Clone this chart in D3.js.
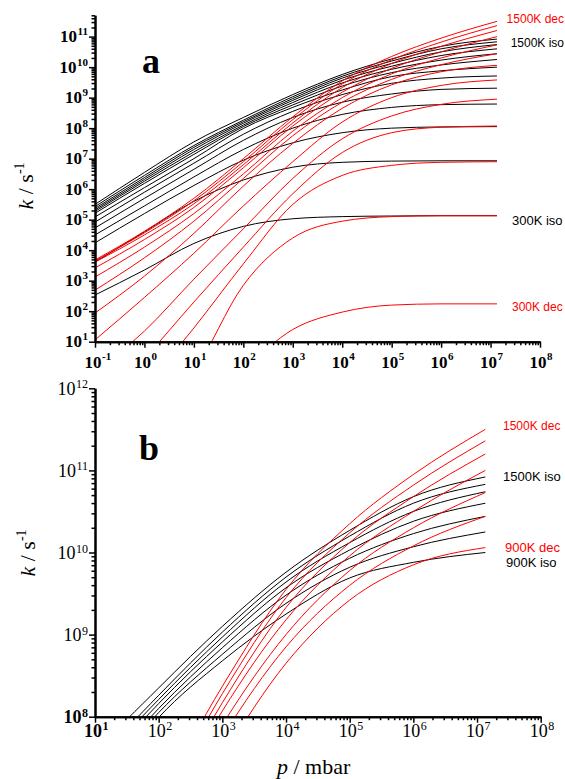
<!DOCTYPE html>
<html><head><meta charset="utf-8">
<script src="https://cdn.jsdelivr.net/npm/d3@7"></script>
<style>body{margin:0;background:#fff} svg{display:block}</style>
</head><body>
<svg id="c" width="565" height="779"></svg>
<script>
// ---- data: log10(p / mbar) grid and log10(k / s^-1) per curve ----
const logP = [-1, 0, 1, 2, 3, 4, 5, 6, 7.13];
const temps = [300, 400, 500, 600, 700, 800, 900, 1000, 1100, 1200, 1300, 1400, 1500];

const iso300  = [2.53, 3.35, 4.22, 4.78, 5.03, 5.10, 5.12, 5.13, 5.13];
const iso400  = [3.61, 4.60, 5.60, 6.30, 6.72, 6.88, 6.92, 6.93, 6.93];
const iso500  = [4.24, 5.20, 6.12, 6.95, 7.52, 7.85, 8.00, 8.04, 8.05];
const iso600  = [4.50, 5.45, 6.40, 7.30, 8.00, 8.45, 8.68, 8.77, 8.79];
const iso700  = [4.73, 5.70, 6.65, 7.60, 8.35, 8.85, 9.12, 9.27, 9.31];
const iso800  = [4.92, 5.90, 6.85, 7.80, 8.55, 9.10, 9.47, 9.64, 9.71];
const iso900  = [5.09, 6.05, 7.00, 7.99, 8.68, 9.25, 9.69, 9.88, 10.00];
const iso1000 = [5.21, 6.19, 7.14, 8.05, 8.76, 9.38, 9.82, 10.07, 10.25];
const iso1100 = [5.27, 6.26, 7.22, 8.10, 8.84, 9.48, 9.93, 10.23, 10.44];
const iso1200 = [5.32, 6.32, 7.30, 8.16, 8.91, 9.57, 10.03, 10.38, 10.60];
const iso1300 = [5.37, 6.38, 7.37, 8.21, 8.97, 9.64, 10.12, 10.50, 10.74];
const iso1400 = [5.43, 6.45, 7.43, 8.26, 9.03, 9.70, 10.20, 10.60, 10.83];
const iso1500 = [5.50, 6.55, 7.55, 8.35, 9.10, 9.76, 10.27, 10.68, 10.92];

const dec300  = [-4.0, -2.5, -1.2, 0.10, 1.40, 1.97, 2.20, 2.24, 2.24];
const dec400  = [-3.5, -1.8, 0.0, 2.85, 4.40, 4.95, 5.10, 5.13, 5.13];
const dec500  = [-2.5, -0.5, 1.45, 3.55, 5.50, 6.45, 6.78, 6.88, 6.90];
const dec600  = [-1.2, 0.45, 2.30, 4.10, 5.85, 7.20, 7.85, 8.03, 8.07];
const dec700  = [0.00, 1.35, 3.05, 4.70, 6.35, 7.65, 8.40, 8.78, 8.95];
const dec800  = [1.06, 2.45, 3.90, 5.45, 6.90, 8.20, 9.00, 9.40, 9.58];
const dec900  = [1.94, 3.15, 4.55, 6.10, 7.50, 8.65, 9.42, 9.85, 10.06];
const dec1000 = [2.69, 3.75, 4.95, 6.35, 7.75, 8.85, 9.60, 10.08, 10.44];
const dec1100 = [3.12, 4.10, 5.20, 6.50, 7.90, 9.00, 9.78, 10.30, 10.73];
const dec1200 = [3.42, 4.35, 5.40, 6.70, 8.07, 9.18, 9.96, 10.50, 11.00];
const dec1300 = [3.61, 4.50, 5.52, 6.80, 8.17, 9.33, 10.12, 10.68, 11.20];
const dec1400 = [3.65, 4.57, 5.62, 6.90, 8.28, 9.45, 10.24, 10.82, 11.36];
const dec1500 = [3.68, 4.62, 5.70, 7.00, 8.37, 9.55, 10.35, 10.95, 11.50];

const isoSeries = [iso300, iso400, iso500, iso600, iso700, iso800, iso900, iso1000, iso1100, iso1200, iso1300, iso1400, iso1500];
const decSeries = [dec300, dec400, dec500, dec600, dec700, dec800, dec900, dec1000, dec1100, dec1200, dec1300, dec1400, dec1500];

// tick exponents
const aXExp = [-1, 0, 1, 2, 3, 4, 5, 6, 7, 8];
const aYExp = [1, 2, 3, 4, 5, 6, 7, 8, 9, 10, 11];
const bXExp = [1, 2, 3, 4, 5, 6, 7, 8];
const bYExp = [8, 9, 10, 11, 12];
const bTemps = [900, 1000, 1100, 1200, 1300, 1400, 1500];

const aLabels = [
  {t: "1500K dec", c: "#ff0000", x: 511, y: 23},
  {t: "1500K iso", c: "#000", x: 511, y: 47},
  {t: "300K iso", c: "#000", x: 512, y: 225},
  {t: "300K dec", c: "#ff0000", x: 512, y: 311}
];
const bLabels = [
  {t: "1500K dec", c: "#ff0000", x: 503, y: 430},
  {t: "1500K iso", c: "#000", x: 503, y: 481},
  {t: "900K dec", c: "#ff0000", x: 505, y: 552},
  {t: "900K iso", c: "#000", x: 506, y: 567}
];

// ---- drawing ----
const svg = d3.select("#c");
const serif = "'Liberation Serif','Times New Roman',serif";
const sans = "'Liberation Sans',Arial,sans-serif";

function minorTicks(lo, hi) {
  const out = [];
  for (let e = Math.floor(Math.log10(lo)); e <= Math.ceil(Math.log10(hi)); e++) {
    for (let m = 2; m <= 9; m++) {
      const v = m * Math.pow(10, e);
      if (v >= lo * 0.999 && v <= hi * 1.001) out.push(v);
    }
  }
  return out;
}

function drawPanel(cfg) {
  const x = d3.scaleLog().domain(cfg.pDom).range([cfg.x0, cfg.x1]);
  const y = d3.scaleLog().domain(cfg.kDom).range([cfg.yBot, cfg.yTop]);
  const g = svg.append("g");
  const clipId = "clip" + cfg.id;
  svg.append("defs").append("clipPath").attr("id", clipId)
    .append("rect").attr("x", cfg.x0).attr("y", cfg.yTop - 1)
    .attr("width", cfg.x1 - cfg.x0).attr("height", cfg.yBot - cfg.yTop + 1);

  const line = d3.line().x(d => x(d[0])).y(d => y(d[1])).curve(d3.curveMonotoneX);
  const lines = g.append("g").attr("clip-path", `url(#${clipId})`);
  const idx = temps.map((t, i) => i).filter(i => cfg.temps.includes(temps[i]));
  const toPts = arr => logP.map((lp, i) => [Math.pow(10, lp), Math.pow(10, arr[i])]);
  idx.forEach(i => {
    lines.append("path").attr("d", line(toPts(isoSeries[i])))
      .attr("fill", "none").attr("stroke", "#000").attr("stroke-width", 1);
  });
  idx.forEach(i => {
    lines.append("path").attr("d", line(toPts(decSeries[i])))
      .attr("fill", "none").attr("stroke", "#ff0000").attr("stroke-width", 1);
  });

  // axes
  const xMajor = cfg.xExp.map(e => Math.pow(10, e));
  const yMajor = cfg.yExp.map(e => Math.pow(10, e));
  const styleAxis = sel => {
    sel.selectAll("path.domain").attr("stroke", "#000").attr("stroke-width", 2);
    sel.selectAll(".tick line").attr("stroke", "#000").attr("stroke-width", 1.5);
    sel.selectAll(".tick text").remove();
  };
  g.append("g").attr("transform", `translate(0,${cfg.yBot})`)
    .call(d3.axisBottom(x).tickValues(minorTicks(cfg.pDom[0], cfg.pDom[1])).tickSize(3.5).tickSizeOuter(0).tickFormat(""))
    .call(styleAxis);
  g.append("g").attr("transform", `translate(0,${cfg.yBot})`)
    .call(d3.axisBottom(x).tickValues(xMajor).tickSize(6).tickSizeOuter(0).tickFormat(""))
    .call(styleAxis);
  g.append("g").attr("transform", `translate(${cfg.x0},0)`)
    .call(d3.axisLeft(y).tickValues(minorTicks(cfg.kDom[0], cfg.kDom[1])).tickSize(3.5).tickSizeOuter(0).tickFormat(""))
    .call(styleAxis);
  g.append("g").attr("transform", `translate(${cfg.x0},0)`)
    .call(d3.axisLeft(y).tickValues(yMajor).tickSize(6).tickSizeOuter(0).tickFormat(""))
    .call(styleAxis);

  // tick labels
  cfg.xExp.forEach(e => {
    const bold = cfg.bold || e === cfg.boldX;
    const wt = bold ? "bold" : "normal";
    const t10 = g.append("text").text("10").attr("font-family", serif).attr("font-weight", wt)
      .attr("font-size", cfg.fs).attr("fill", "#000");
    const ts = g.append("text").text(String(e)).attr("font-family", serif).attr("font-weight", wt)
      .attr("font-size", cfg.sfs).attr("fill", "#000");
    const w10 = t10.node().getComputedTextLength();
    const ws = ts.node().getComputedTextLength();
    const cx = x(Math.pow(10, e)) + cfg.xLabShift;
    const start = cfg.centerWhole ? cx - (w10 + ws) / 2 : cx - w10 / 2;
    t10.attr("x", start).attr("y", cfg.xLabBase);
    ts.attr("x", start + w10 + 0.5).attr("y", cfg.xSupBase);
  });
  cfg.yExp.forEach(e => {
    const bold = cfg.bold || e === cfg.boldY;
    const wt = bold ? "bold" : "normal";
    const yy = y(Math.pow(10, e));
    const ts = g.append("text").text(String(e)).attr("font-family", serif).attr("font-weight", wt)
      .attr("font-size", cfg.sfs).attr("fill", "#000").attr("text-anchor", "end")
      .attr("x", cfg.yLabRight).attr("y", yy + cfg.ySupOff);
    const ws = ts.node().getComputedTextLength();
    g.append("text").text("10").attr("font-family", serif).attr("font-weight", wt)
      .attr("font-size", cfg.fs).attr("fill", "#000").attr("text-anchor", "end")
      .attr("x", cfg.yLabRight - ws - 0.5).attr("y", yy + cfg.yBaseOff);
  });

  // y title
  const yt = g.append("text").attr("transform", `translate(${cfg.ytX},${cfg.ytY}) rotate(-90)`)
    .attr("text-anchor", "middle").attr("font-family", serif).attr("font-size", 22).attr("fill", "#000");
  yt.append("tspan").attr("font-style", "italic").text("k");
  yt.append("tspan").text(" / s");
  yt.append("tspan").attr("font-size", 14).attr("dy", -9).text("-1");

  // panel letter
  g.append("text").attr("x", cfg.letX).attr("y", cfg.letY).attr("font-family", serif)
    .attr("font-weight", "bold").attr("font-size", 36).attr("fill", "#000").text(cfg.id);

  // curve labels (kept inside the 565 px page)
  cfg.labels.forEach(l => {
    const t = g.append("text").attr("x", l.x).attr("y", l.y).attr("font-family", sans).attr("font-size", 13)
      .attr("fill", l.c).text(l.t);
    let w = t.node().getComputedTextLength();
    if (l.x + w > 564) {
      t.attr("font-size", 12);
      w = t.node().getComputedTextLength();
      if (l.x + w > 564) t.attr("x", 564 - w);
    }
  });
}

drawPanel({
  id: "a", x0: 95, x1: 540, yTop: 15.3, yBot: 341.7,
  pDom: [0.1, 1e8], kDom: [10, 5e11], temps: temps,
  xExp: aXExp, yExp: aYExp, bold: true, fs: 17, sfs: 11,
  xLabShift: -2, centerWhole: false, xLabBase: 368, xSupBase: 360,
  yLabRight: 88, yBaseOff: 5.5, ySupOff: -1.5,
  ytX: 33, ytY: 186, letX: 142, letY: 73, labels: aLabels
});
drawPanel({
  id: "b", x0: 95, x1: 540.7, yTop: 388.3, yBot: 716.7,
  pDom: [10, 1e8], kDom: [1e8, 1e12], temps: bTemps,
  xExp: bXExp, yExp: bYExp, bold: false, boldX: 1, boldY: 8, fs: 18, sfs: 12,
  xLabShift: 1, centerWhole: true, xLabBase: 737, xSupBase: 730,
  yLabRight: 88, yBaseOff: 6.5, ySupOff: 0,
  ytX: 35, ytY: 553, letX: 139, letY: 460, labels: bLabels
});

// x title
const xt = svg.append("text").attr("x", 277).attr("y", 774).attr("font-family", serif)
  .attr("font-size", 22).attr("fill", "#000");
xt.append("tspan").attr("font-style", "italic").text("p");
xt.append("tspan").text(" / mbar");
</script>
</body></html>
